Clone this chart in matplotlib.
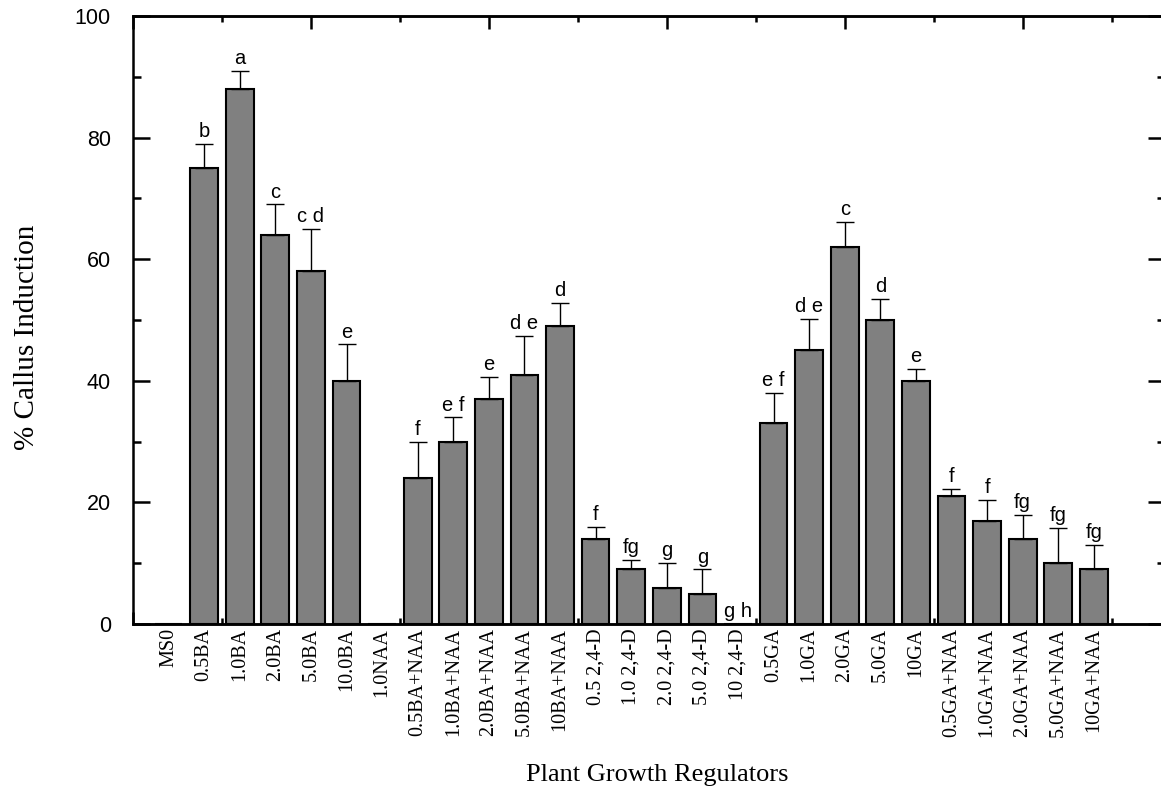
import numpy as np
import matplotlib
matplotlib.use("Agg")
import matplotlib.pyplot as plt

categories = ["MS0", "0.5BA", "1.0BA", "2.0BA", "5.0BA", "10.0BA", "1.0NAA",
              "0.5BA+NAA", "1.0BA+NAA", "2.0BA+NAA", "5.0BA+NAA", "10BA+NAA",
              "0.5 2,4-D", "1.0 2,4-D", "2.0 2,4-D", "5.0 2,4-D", "10 2,4-D",
              "0.5GA", "1.0GA", "2.0GA", "5.0GA", "10GA",
              "0.5GA+NAA", "1.0GA+NAA", "2.0GA+NAA", "5.0GA+NAA", "10GA+NAA"]
means = [0, 75, 88, 64, 58, 40, 0, 24, 30, 37, 41, 49, 14, 9, 6, 5, 0,
         33, 45, 62, 50, 40, 21, 17, 14, 10, 9]
errors = [0, 4, 3, 5, 7, 6, 0, 6, 4, 3.6, 6.4, 3.8, 2, 1.5, 4, 4, 0,
          5, 5.2, 4.2, 3.5, 2, 1.2, 3.4, 4, 5.8, 4]
letters = ["", "b", "a", "c", "c d", "e", "", "f", "e f", "e", "d e", "d",
           "f", "fg", "g", "g", "g h", "e f", "d e", "c", "d", "e",
           "f", "f", "fg", "fg", "fg"]
yticks = [0, 20, 40, 60, 80, 100]

fig = plt.figure(figsize=(11.61, 7.93), dpi=100)
ax = fig.add_axes([133/1161, 1 - 624/793, 1032/1161, 608/793])

x = np.arange(len(categories))
m = np.array(means, dtype=float)
e = np.array(errors, dtype=float)
ax.bar(x, m, width=0.78, color="#808080", edgecolor="black", linewidth=1.5, zorder=2)
mask = e > 0
ax.errorbar(x[mask], m[mask], yerr=[np.zeros(mask.sum()), e[mask]], fmt="none",
            ecolor="black", elinewidth=1.0, capsize=6.5, capthick=1.0, zorder=3)

for xi, mi, ei, lab in zip(x, m, e, letters):
    if lab:
        ax.annotate(lab, (xi, mi + ei), xytext=(0, 2), textcoords="offset points",
                    ha="center", va="bottom", fontsize=14.5, family="Liberation Sans")

ax.set_xlim(-1, 28)
ax.set_ylim(0, 100)

# category labels
ax.set_xticks(x)
ax.set_xticklabels(categories, rotation=90, family="Liberation Serif", fontsize=14.5)
ax.tick_params(axis="x", which="major", length=0, pad=3)

# y ticks
ax.set_yticks(yticks)
ax.set_yticklabels([str(v) for v in yticks], family="Liberation Sans", fontsize=15.5)
ax.yaxis.set_minor_locator(matplotlib.ticker.MultipleLocator(10))
ax.tick_params(axis="y", which="both", direction="in", left=True, right=True, width=1.8)
ax.tick_params(axis="y", which="major", length=12, pad=16)
ax.tick_params(axis="y", which="minor", length=6)

# x tick marks (bottom and top)
major_pos = np.arange(-1, 28, 5)
minor_pos = np.arange(1.5, 28, 5)
for loc in ("bottom", "top"):
    sec = ax.secondary_xaxis(loc)
    sec.set_xticks(major_pos)
    sec.set_xticklabels([])
    sec.xaxis.set_minor_locator(matplotlib.ticker.FixedLocator(minor_pos))
    sec.tick_params(axis="x", which="both", direction="in", width=1.8)
    sec.tick_params(axis="x", which="major", length=9)
    sec.tick_params(axis="x", which="minor", length=4.5)
    for sp in sec.spines.values():
        sp.set_linewidth(1.8)

for sp in ax.spines.values():
    sp.set_linewidth(1.8)

ax.set_ylabel("% Callus Induction", family="Liberation Serif", fontsize=21)
ax.yaxis.set_label_coords(-0.103, 0.472)
ax.yaxis.label.set_va("center")
ax.set_xlabel("Plant Growth Regulators", family="Liberation Serif", fontsize=19)
ax.xaxis.set_label_coords(0.508, -0.248)
ax.xaxis.label.set_va("center")

fig.savefig("out.png", dpi=100)
